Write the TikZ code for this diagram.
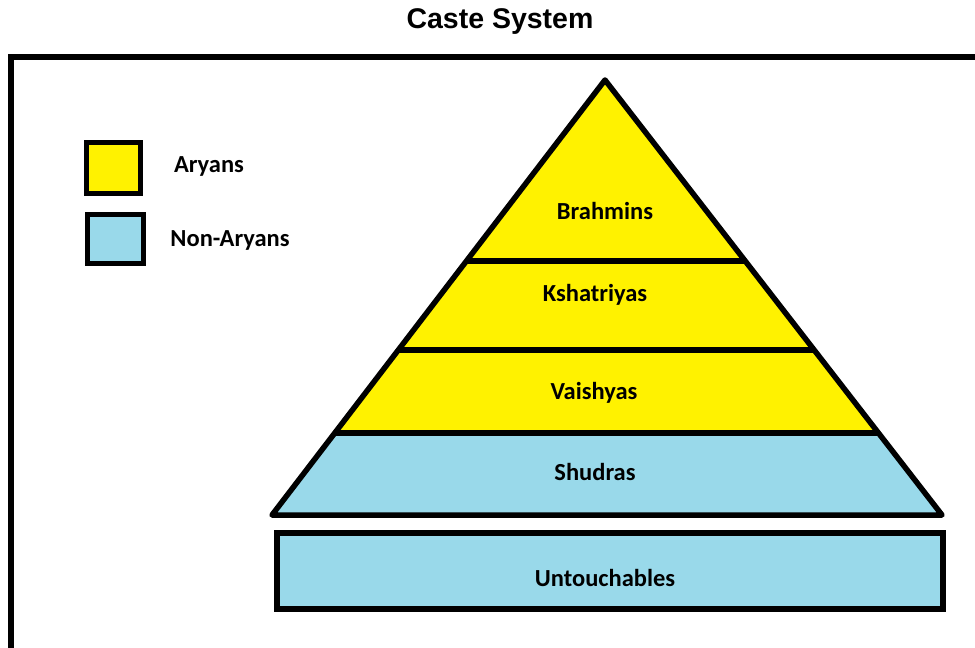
\documentclass[tikz,border=0pt]{standalone}
\usepackage{fontspec}
\setmainfont{Carlito}
\newfontfamily\titlefont{Liberation Sans}
\usetikzlibrary{calc}
\definecolor{aryan}{RGB}{255,242,0}
\definecolor{nonaryan}{RGB}{153,217,234}

\begin{document}
\begin{tikzpicture}[x=1pt,y=-1pt,line width=5.5pt,line join=round,
  caste/.style={font=\bfseries\fontsize{24.5}{28}\selectfont,inner sep=0pt},
  key/.style={draw,line width=5.5pt,line join=miter,inner sep=0pt}]

  \useasboundingbox (0,0) rectangle (975,648);
  \clip (0,0) rectangle (975,648);
  \node[font=\titlefont\bfseries\fontsize{28.5}{32}\selectfont] (title) at (500,22) {Caste System};
  % frame
  \draw[line join=miter] (11,700) -- (11,57) -- (1000,57);

  % legend
  \node[key,fill=aryan,minimum width=54pt,minimum height=51pt] (keyA) at (113.5,168) {};
  \node[key,fill=nonaryan,minimum width=56pt,minimum height=49pt] (keyN) at (115.5,239) {};
  \node[caste] (aryans) at (209,166) {Aryans};
  \node[caste] (nonaryans) at (230,240) {Non-Aryans};

  % pyramid
  \coordinate (apex) at (605,80);
  \coordinate (bl) at (272,515);
  \coordinate (br) at (942,515);
  \coordinate (l3) at ($(bl)!0.1885!(apex)$);
  \coordinate (r3) at ($(br)!0.1885!(apex)$);
  \coordinate (l2) at ($(bl)!0.379!(apex)$);
  \coordinate (r2) at ($(br)!0.379!(apex)$);
  \coordinate (l1) at ($(bl)!0.584!(apex)$);
  \coordinate (r1) at ($(br)!0.584!(apex)$);
  \fill[nonaryan] (bl) -- (br) -- (r3) -- (l3) -- cycle;
  \fill[aryan] (l3) -- (r3) -- (apex) -- cycle;
  \draw (l1) -- (r1);
  \draw (l2) -- (r2);
  \draw (l3) -- (r3);
  \draw (bl) -- (br) -- (apex) -- cycle;
  \node[caste] (brahmins) at (605,211) {Brahmins};
  \node[caste] (kshatriyas) at (595,295) {Kshatriyas};
  \node[caste] (vaishyas) at (594,393) {Vaishyas};
  \node[caste] (shudras) at (595,472) {Shudras};

  % base
  \draw[fill=nonaryan,line join=miter] (277,533) rectangle (943,609);
  \node[caste] (untouch) at (605,578) {Untouchables};
\end{tikzpicture}
\end{document}
